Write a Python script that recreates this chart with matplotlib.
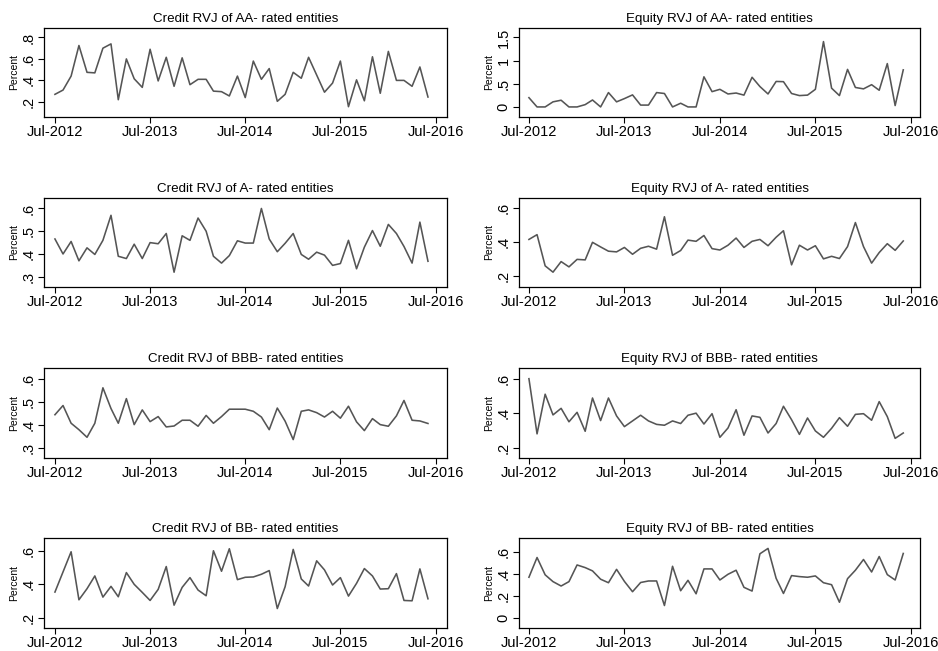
import numpy as np
import pandas as pd
import matplotlib
matplotlib.use("Agg")
import matplotlib.pyplot as plt
from matplotlib.ticker import FuncFormatter, FixedLocator

plt.rcParams['font.family'] = ['Liberation Sans', 'DejaVu Sans']

dates = pd.date_range('2012-07-01', periods=48, freq='MS')
tick_dates = pd.to_datetime(['2012-07-01', '2013-07-01', '2014-07-01', '2015-07-01', '2016-07-01'])
tick_labels = ['Jul-2012', 'Jul-2013', 'Jul-2014', 'Jul-2015', 'Jul-2016']

credit_aa = [0.27, 0.31, 0.44, 0.725, 0.475, 0.47, 0.70, 0.74, 0.22, 0.60, 0.415, 0.335,
             0.69, 0.395, 0.615, 0.345, 0.61, 0.36, 0.41, 0.41, 0.30, 0.295, 0.255, 0.44,
             0.24, 0.58, 0.41, 0.51, 0.205, 0.27, 0.475, 0.42, 0.615, 0.45, 0.29, 0.375,
             0.58, 0.155, 0.405, 0.21, 0.62, 0.28, 0.67, 0.40, 0.40, 0.345, 0.525, 0.245]
equity_aa = [0.20, 0.0, 0.0, 0.11, 0.145, 0.0, 0.0, 0.05, 0.15, 0.0, 0.31, 0.11,
             0.18, 0.26, 0.04, 0.04, 0.31, 0.29, 0.0, 0.08, 0.0, 0.0, 0.65, 0.33,
             0.38, 0.28, 0.30, 0.255, 0.64, 0.44, 0.28, 0.55, 0.545, 0.29, 0.245, 0.255,
             0.38, 1.41, 0.405, 0.245, 0.81, 0.42, 0.39, 0.48, 0.36, 0.935, 0.03, 0.80]
credit_a = [0.466, 0.40, 0.455, 0.37, 0.427, 0.398, 0.46, 0.57, 0.39, 0.38, 0.443, 0.38,
            0.45, 0.445, 0.49, 0.32, 0.48, 0.46, 0.558, 0.50, 0.39, 0.36, 0.393, 0.458,
            0.448, 0.448, 0.60, 0.466, 0.41, 0.447, 0.49, 0.398, 0.377, 0.408, 0.395, 0.35,
            0.358, 0.46, 0.335, 0.43, 0.503, 0.434, 0.53, 0.49, 0.433, 0.36, 0.54, 0.368]
equity_a = [0.417, 0.445, 0.262, 0.225, 0.287, 0.256, 0.30, 0.297, 0.40, 0.373, 0.348, 0.344,
            0.37, 0.33, 0.365, 0.377, 0.36, 0.55, 0.324, 0.352, 0.413, 0.406, 0.44, 0.363,
            0.355, 0.383, 0.425, 0.37, 0.406, 0.417, 0.38, 0.43, 0.468, 0.268, 0.383, 0.355,
            0.38, 0.303, 0.318, 0.305, 0.375, 0.516, 0.375, 0.278, 0.34, 0.392, 0.353, 0.408]
credit_bbb = [0.443, 0.483, 0.406, 0.378, 0.345, 0.406, 0.56, 0.47, 0.406, 0.513, 0.40, 0.464,
              0.413, 0.435, 0.39, 0.394, 0.419, 0.419, 0.393, 0.44, 0.406, 0.435, 0.467, 0.467,
              0.467, 0.458, 0.433, 0.378, 0.472, 0.415, 0.335, 0.458, 0.464, 0.452, 0.433, 0.458,
              0.428, 0.48, 0.412, 0.374, 0.426, 0.40, 0.393, 0.438, 0.505, 0.419, 0.416, 0.405]
equity_bbb = [0.60, 0.28, 0.51, 0.39, 0.428, 0.35, 0.405, 0.295, 0.488, 0.357, 0.488, 0.384,
              0.322, 0.355, 0.388, 0.355, 0.335, 0.33, 0.355, 0.34, 0.388, 0.40, 0.337, 0.397,
              0.26, 0.314, 0.42, 0.272, 0.384, 0.376, 0.285, 0.34, 0.44, 0.362, 0.277, 0.372,
              0.297, 0.26, 0.312, 0.374, 0.324, 0.393, 0.397, 0.359, 0.467, 0.38, 0.254, 0.285]
credit_bb = [0.354, 0.474, 0.594, 0.308, 0.374, 0.45, 0.324, 0.388, 0.326, 0.47, 0.40, 0.352,
             0.304, 0.37, 0.506, 0.276, 0.382, 0.44, 0.366, 0.332, 0.60, 0.478, 0.612, 0.428,
             0.442, 0.444, 0.46, 0.482, 0.256, 0.386, 0.608, 0.432, 0.39, 0.54, 0.486, 0.396,
             0.44, 0.33, 0.406, 0.494, 0.45, 0.372, 0.374, 0.464, 0.304, 0.302, 0.492, 0.314]
equity_bb = [0.368, 0.548, 0.39, 0.328, 0.288, 0.328, 0.48, 0.456, 0.426, 0.35, 0.318, 0.44,
             0.33, 0.236, 0.32, 0.334, 0.334, 0.11, 0.468, 0.245, 0.34, 0.217, 0.444, 0.444,
             0.343, 0.395, 0.432, 0.276, 0.242, 0.582, 0.631, 0.358, 0.22, 0.383, 0.374, 0.368,
             0.38, 0.318, 0.30, 0.14, 0.355, 0.432, 0.53, 0.416, 0.557, 0.392, 0.343, 0.585]

titles = ['Credit RVJ of AA- rated entities', 'Equity RVJ of AA- rated entities',
          'Credit RVJ of A- rated entities', 'Equity RVJ of A- rated entities',
          'Credit RVJ of BBB- rated entities', 'Equity RVJ of BBB- rated entities',
          'Credit RVJ of BB- rated entities', 'Equity RVJ of BB- rated entities']
series = [credit_aa, equity_aa, credit_a, equity_a, credit_bbb, equity_bbb, credit_bb, equity_bb]
yticks = [[0.2, 0.4, 0.6, 0.8], [0, 0.5, 1, 1.5],
          [0.3, 0.4, 0.5, 0.6], [0.2, 0.4, 0.6],
          [0.3, 0.4, 0.5, 0.6], [0.2, 0.4, 0.6],
          [0.2, 0.4, 0.6], [0, 0.2, 0.4, 0.6]]
ylims = [(0.059, 0.888), (-0.217, 1.703),
         (0.255, 0.646), (0.138, 0.660),
         (0.255, 0.646), (0.140, 0.662),
         (0.140, 0.676), (-0.095, 0.726)]


def stata_num(v, pos=None):
    # Stata-style numbers: drop the leading zero (".4" rather than "0.4")
    s = ('%g' % round(v, 4))
    if s.startswith('0.'):
        s = s[1:]
    return s


W, H = 938, 651
col_px = [(44, 447), (519, 920)]
row_px = [(28, 117), (198, 287), (368, 458), (538, 628)]

fig = plt.figure(figsize=(W / 100, H / 100), dpi=100)
fig.patch.set_facecolor('white')

for k in range(8):
    r, c = divmod(k, 2)
    x0, x1 = col_px[c]
    y0, y1 = row_px[r]
    ax = fig.add_axes([x0 / W, (H - y1) / H, (x1 - x0) / W, (y1 - y0) / H])
    ax.plot(dates, series[k], color='#555555', lw=1.15)
    ax.set_title(titles[k], fontsize=9.6, pad=4)
    if c == 0:
        ax.set_xlim(pd.Timestamp('2012-05-20'), pd.Timestamp('2016-08-13'))
    else:
        ax.set_xlim(pd.Timestamp('2012-05-24'), pd.Timestamp('2016-08-04'))
    ax.set_ylim(*ylims[k])
    ax.set_xticks(tick_dates)
    ax.set_xticklabels(tick_labels, fontsize=10.5)
    ax.yaxis.set_major_locator(FixedLocator(yticks[k]))
    ax.yaxis.set_major_formatter(FuncFormatter(stata_num))
    for lab in ax.get_yticklabels():
        lab.set_rotation(90)
        lab.set_va('center')
    ax.tick_params(axis='y', labelsize=10.5, length=4, width=0.8, pad=2)
    ax.tick_params(axis='x', length=4, width=0.8, pad=2)
    ax.set_ylabel('Percent', fontsize=7.5, labelpad=2)
    for sp in ax.spines.values():
        sp.set_linewidth(0.9)
        sp.set_color('black')

fig.savefig('out.png', dpi=100, facecolor='white')
